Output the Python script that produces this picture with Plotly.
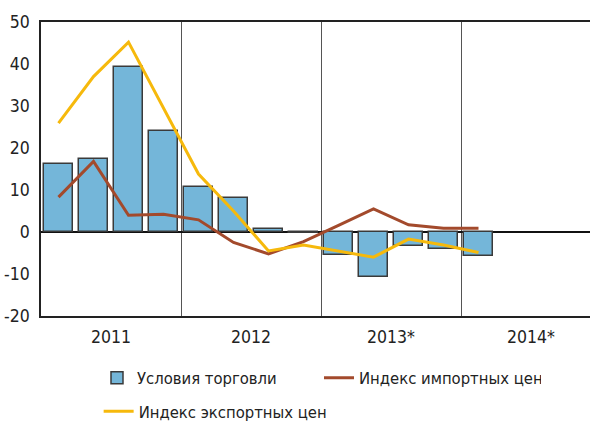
import plotly.graph_objects as go

quarters = ["2011 Q1", "2011 Q2", "2011 Q3", "2011 Q4",
            "2012 Q1", "2012 Q2", "2012 Q3", "2012 Q4",
            "2013 Q1", "2013 Q2", "2013 Q3", "2013 Q4",
            "2014 Q1"]
terms_of_trade = [16.3, 17.3, 39.3, 24.0, 10.6, 8.2, 0.7, -0.3, -5.5, -10.8, -3.4, -4.0, -5.7]
import_index = [8.3, 16.8, 4.0, 4.2, 2.9, -2.5, -5.2, -2.3, 1.6, 5.5, 1.7, 0.9, 0.9]
export_index = [25.9, 37.0, 45.2, 29.5, 13.8, 5.0, -4.5, -3.1, -4.6, -6.0, -1.7, -3.1, -4.9]
years = ["2011", "2012", "2013*", "2014*"]
y_ticks = [-20, -10, 0, 10, 20, 30, 40, 50]
y_tick_labels = ["-20", "-10", "0", "10", "20", "30", "40", "50"]

xpos = [i + 0.5 for i in range(len(quarters))]
year_pos = [4 * i + 2 for i in range(len(years))]

FONT = "DejaVu Sans Condensed, Roboto, sans-serif"

fig = go.Figure()
fig.add_trace(go.Bar(
    x=xpos, y=terms_of_trade, width=0.81, name="Условия торговли",
    marker=dict(color="#74b6d9", line=dict(color="#3a3a3a", width=1.5)),
    legend="legend",
))
fig.add_trace(go.Scatter(
    x=xpos, y=import_index, mode="lines", name="Индекс импортных цен",
    line=dict(color="#a34a2c", width=3), legend="legend",
))
fig.add_trace(go.Scatter(
    x=xpos, y=export_index, mode="lines", name="Индекс экспортных цен",
    line=dict(color="#f6b90c", width=3), legend="legend2",
))

fig.update_layout(
    width=590, height=423,
    margin=dict(l=41, r=0, t=22, b=107, autoexpand=False),
    plot_bgcolor="white", paper_bgcolor="white",
    font=dict(family=FONT, size=17.5, color="#222"),
    bargap=0,
    legend=dict(orientation="h", x=0.102, y=-0.211, xanchor="left", yanchor="middle",
                entrywidth=177, font=dict(size=16.5), bgcolor="rgba(0,0,0,0)"),
    legend2=dict(orientation="h", x=0.105, y=-0.325, xanchor="left", yanchor="middle",
                 font=dict(size=16.5), bgcolor="rgba(0,0,0,0)"),
    xaxis=dict(
        range=[0, 549 / 35], tickvals=year_pos, ticktext=years, automargin=False,
        showgrid=False, showline=True, linecolor="#222", linewidth=1.5, mirror=True,
        ticks="", ticklabelstandoff=4, zeroline=False,
        minor=dict(tick0=0, dtick=4, showgrid=True, gridcolor="#555", gridwidth=1.2),
    ),
    yaxis=dict(
        range=[-20, 50], tickvals=y_ticks, ticktext=y_tick_labels, automargin=False,
        showgrid=False, showline=True, linecolor="#222", linewidth=1.5,
        zeroline=True, zerolinecolor="#111", zerolinewidth=1.5,
        ticks="", ticklabelstandoff=6,
    ),
)

fig.write_html("out.html", config={"displayModeBar": False},
               post_script="document.body.style.margin='0';")
